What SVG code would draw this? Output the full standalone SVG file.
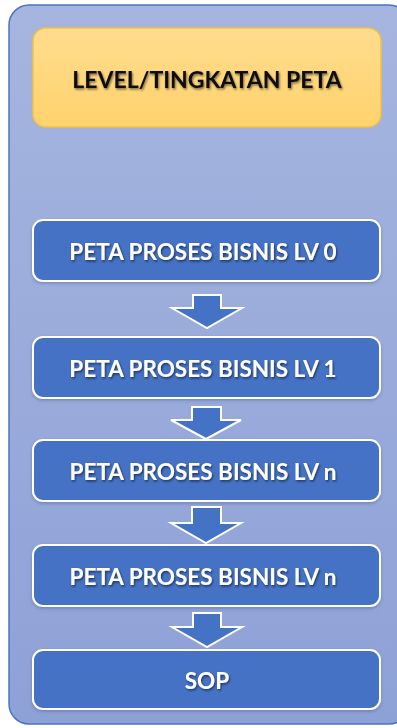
<svg xmlns="http://www.w3.org/2000/svg" width="397" height="728" viewBox="0 0 397 728">
  <defs>
    <linearGradient id="panelFill" x1="0" y1="0" x2="0" y2="1">
      <stop offset="0" stop-color="#a6b5df"/>
      <stop offset="1" stop-color="#8ea1d7"/>
    </linearGradient>
    <linearGradient id="titleFill" x1="0" y1="0" x2="0" y2="1">
      <stop offset="0" stop-color="#ffdc8e"/>
      <stop offset="1" stop-color="#ffd26c"/>
    </linearGradient>
    <filter id="textShadow" x="-10%" y="-30%" width="120%" height="160%">
      <feDropShadow dx="1" dy="1.5" stdDeviation="0.8" flood-color="#000" flood-opacity="0.55"/>
    </filter>
    <filter id="boxShadow" x="-5%" y="-10%" width="110%" height="130%">
      <feDropShadow dx="0" dy="1.5" stdDeviation="1.5" flood-color="#2a3f70" flood-opacity="0.35"/>
    </filter>
  </defs>
  <style>
    .panel { fill: url(#panelFill); stroke: #4a74c6; stroke-width: 1.5; }
    .title { fill: url(#titleFill); stroke: #f2c23e; stroke-width: 1.5; }
    .step { fill: #4472c4; stroke: #ffffff; stroke-width: 2; filter: url(#boxShadow); }
    .arrow { fill: #4472c4; stroke: #ffffff; stroke-width: 2; stroke-linejoin: miter; }
    .label { font-family: Lato, "Open Sans", "Liberation Sans", sans-serif; font-weight: bold; text-anchor: middle; dominant-baseline: central; filter: url(#textShadow); }
    .dark { fill: #111111; font-size: 23px; }
    .light { fill: #ffffff; font-size: 22.5px; }
  </style>

  <!-- background container -->
  <rect class="panel" x="9" y="5" width="400" height="719" rx="20"/>

  <g id="title">
    <rect class="title" x="33" y="28" width="348" height="99" rx="13"/>
    <text class="label dark" x="207" y="79">LEVEL/TINGKATAN PETA</text>
  </g>

  <g id="lv0">
    <rect class="step" x="33" y="220" width="347" height="61" rx="10"/>
    <text class="label light" x="203" y="251">PETA PROSES BISNIS LV 0</text>
  </g>

  <g id="lv1">
    <rect class="step" x="33" y="337" width="347" height="61" rx="10"/>
    <text class="label light" x="203" y="368">PETA PROSES BISNIS LV 1</text>
  </g>

  <g id="lvn-a">
    <rect class="step" x="33" y="440" width="347" height="61" rx="10"/>
    <text class="label light" x="203" y="471">PETA PROSES BISNIS LV n</text>
  </g>

  <g id="lvn-b">
    <rect class="step" x="33" y="545" width="347" height="61" rx="10"/>
    <text class="label light" x="203" y="576">PETA PROSES BISNIS LV n</text>
  </g>

  <g id="sop">
    <rect class="step" x="33" y="650" width="347" height="59" rx="10"/>
    <text class="label light" x="207" y="680">SOP</text>
  </g>

  <!-- block arrows between levels -->
  <g id="connectors">
    <path class="arrow" d="M193,295 H221 V308 H242 L207,328 L172,308 H193 Z"/>
    <path class="arrow" d="M192,407 H221 V420 H241 L206,439 L171,420 H192 Z"/>
    <path class="arrow" d="M192,507 H221 V523 H241 L206,543 L171,523 H192 Z"/>
    <path class="arrow" d="M193,613 H221 V627 H242 L207,647 L172,627 H193 Z"/>
  </g>
</svg>
